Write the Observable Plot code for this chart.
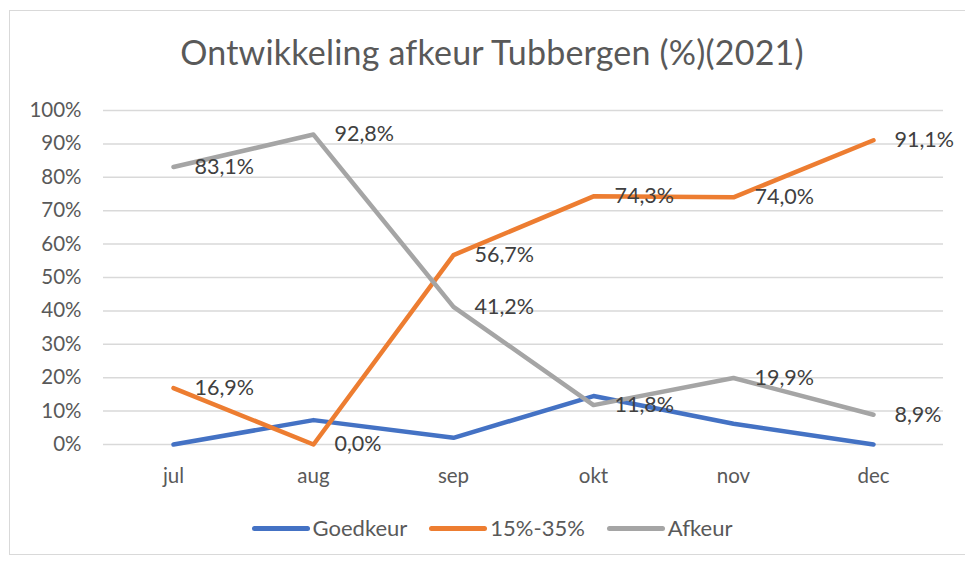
<!DOCTYPE html>
<html>
<head>
<meta charset="utf-8">
<script src="https://cdn.jsdelivr.net/npm/d3@7"></script>
<script src="https://cdn.jsdelivr.net/npm/@observablehq/plot@0.6"></script>
<style>
  html, body { margin: 0; padding: 0; background: #fff; }
  body { width: 965px; height: 563px; position: relative; overflow: hidden; font-family: Lato, "Liberation Sans", sans-serif; }
  #frame { position: absolute; left: 9px; top: 10px; width: 970px; height: 545px; border: 1px solid #d9d9d9; box-sizing: border-box; }
  #title { position: absolute; left: 0; top: 32px; width: 984px; text-align: center; font-size: 34px; line-height: 40px; color: #595959; letter-spacing: 0.2px; }
  #chart { position: absolute; left: 0; top: 90px; }
  #legend { position: absolute; left: 0; top: 514px; width: 984px; display: flex; justify-content: center; gap: 22px; font-size: 22px; line-height: 28px; color: #595959; }
  .item { display: flex; align-items: center; }
  .sw { width: 58px; height: 5px; border-radius: 3px; margin-right: 3px; }
</style>
</head>
<body>
<div id="frame"></div>
<div id="title">Ontwikkeling afkeur Tubbergen (%)(2021)</div>
<div id="chart"></div>
<div id="legend"></div>
<script>
const months = ["jul", "aug", "sep", "okt", "nov", "dec"];
const seriesNames = ["Goedkeur", "15%-35%", "Afkeur"];
const goedkeur = [0, 7.3, 2.0, 14.5, 6.2, 0];
const midden = [16.9, 0.0, 56.7, 74.3, 74.0, 91.1];
const afkeur = [83.1, 92.8, 41.2, 11.8, 19.9, 8.9];
const colors = ["#4472C4", "#ED7D31", "#A5A5A5"];
const labelledSeries = ["15%-35%", "Afkeur"];
const yTicks = [0, 10, 20, 30, 40, 50, 60, 70, 80, 90, 100];

const valuesBySeries = [goedkeur, midden, afkeur];
const data = [];
seriesNames.forEach((s, i) => months.forEach((m, j) => data.push({series: s, month: m, value: valuesBySeries[i][j]})));
const labelData = data.filter(d => labelledSeries.includes(d.series));
const fmt = v => v.toFixed(1).replace(".", ",") + "%";

const chart = Plot.plot({
  width: 965,
  height: 400,
  marginTop: 20,
  marginBottom: 46,
  marginLeft: 103,
  marginRight: 22,
  style: {fontFamily: "Lato, 'Liberation Sans', sans-serif", fontSize: "20.5px", color: "#595959", background: "transparent"},
  x: {type: "point", domain: months, padding: 0.5, label: null, tickSize: 0, tickPadding: 24},
  y: {domain: [0, 100], ticks: yTicks, tickFormat: d => d + "%", label: null, tickSize: 0, tickPadding: 22},
  color: {domain: seriesNames, range: colors},
  marks: [
    Plot.gridY(yTicks, {stroke: "#d9d9d9", strokeOpacity: 1, strokeWidth: 1.5}),
    Plot.line(data, {x: "month", y: "value", z: "series", stroke: "series", strokeWidth: 4.5, strokeLinejoin: "round", strokeLinecap: "round"}),
    Plot.text(labelData, {x: "month", y: "value", text: d => fmt(d.value), textAnchor: "start", dx: 21, fill: "#404040", fontSize: 21.5})
  ]
});
document.getElementById("chart").appendChild(chart);

const legend = document.getElementById("legend");
seriesNames.forEach((s, i) => {
  const it = document.createElement("div");
  it.className = "item";
  const sw = document.createElement("div");
  sw.className = "sw";
  sw.style.background = colors[i];
  const t = document.createElement("span");
  t.textContent = s;
  it.appendChild(sw); it.appendChild(t);
  legend.appendChild(it);
});
</script>
</body>
</html>
